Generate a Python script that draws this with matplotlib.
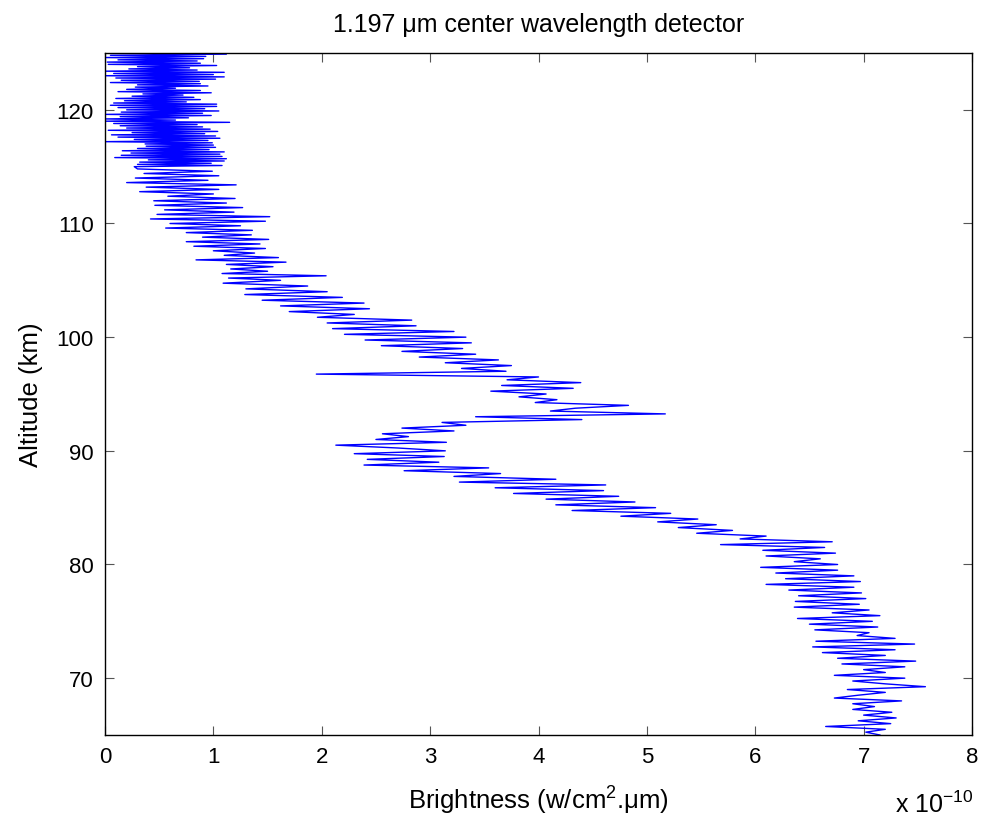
#!/usr/bin/env python
# -*- coding:utf-8 -*-
import matplotlib
matplotlib.use('Agg')
import matplotlib.pyplot as plt

plt.rcParams['font.family'] = ['Liberation Sans', 'DejaVu Sans']
plt.rcParams['mathtext.fontset'] = 'custom'
plt.rcParams['mathtext.rm'] = 'Liberation Sans'
plt.rcParams['mathtext.it'] = 'Liberation Sans'

# altitude samples (km)
alt_top = [125.0, 124.9, 124.8, 124.7, 124.6, 124.5, 124.4, 124.3, 124.2, 124.1,
           124.0, 123.9, 123.8, 123.7, 123.6, 123.5, 123.4, 123.3, 123.2, 123.1,
           123.0, 122.9, 122.8, 122.7, 122.6, 122.5, 122.4, 122.3, 122.2, 122.1,
           122.0, 121.9, 121.8, 121.7, 121.6, 121.5, 121.4, 121.3, 121.2, 121.1,
           121.0, 120.9, 120.8, 120.7, 120.6, 120.5, 120.4, 120.3, 120.2, 120.1,
           120.0, 119.9, 119.8, 119.7, 119.6, 119.5, 119.4, 119.3, 119.2, 119.1,
           119.0, 118.9, 118.8, 118.7, 118.6, 118.5, 118.4, 118.3, 118.2, 118.1,
           118.0, 117.9, 117.8, 117.7, 117.6, 117.5, 117.4, 117.3, 117.2, 117.1,
           117.0, 116.9, 116.8, 116.7, 116.6, 116.5, 116.4, 116.3, 116.2, 116.1,
           116.0, 115.9, 115.8, 115.7, 115.6, 115.5, 115.4, 115.3, 115.2, 115.1,
           115.0]
bright_top = [0.0, 1.12, 0.05, 0.93, 0.0, 0.91, 0.12, 0.85, 0.02, 0.88,
              0.03, 1.03, 0.3, 0.78, 0.22, 0.85, 0.0, 1.10, 0.08, 1.0,
              0.0, 1.1, 0.1, 1.02, 0.15, 0.87, 0.05, 0.88, 0.3, 0.95,
              0.28, 0.65, 0.2, 0.88, 0.12, 0.98, 0.35, 0.72, 0.25, 0.82,
              0.1, 0.88, 0.18, 0.75, 0.08, 1.03, 0.05, 1.03, 0.12, 0.92,
              0.2, 1.05, 0.15, 0.9, 0.0, 0.98, 0.14, 0.77, 0.0, 0.65,
              0.0, 1.15, 0.08, 0.85, 0.14, 0.9, 0.2, 0.97, 0.03, 1.04,
              0.25, 0.92, 0.06, 1.02, 0.12, 1.06, 0.27, 0.95, 0.0, 0.99,
              0.37, 1.0, 0.38, 1.02, 0.3, 0.96, 0.16, 1.1, 0.24, 1.06,
              0.15, 1.08, 0.09, 1.12, 0.4, 1.1, 0.32, 0.98, 0.3, 1.08,
              0.27]

alt_mid = [114.8, 114.6, 114.4, 114.2, 114.0, 113.8, 113.6, 113.4, 113.2, 113.0,
           112.8, 112.6, 112.4, 112.2, 112.0, 111.8, 111.6, 111.4, 111.2, 111.0,
           110.8, 110.6, 110.4, 110.2, 110.0, 109.8, 109.6, 109.4, 109.2, 109.0,
           108.8, 108.6, 108.4, 108.2, 108.0, 107.8, 107.6, 107.4, 107.2, 107.0,
           106.8, 106.6, 106.4, 106.2, 106.0, 105.8, 105.6, 105.4, 105.2, 105.0]
bright_mid = [0.3, 0.99, 0.36, 1.05, 0.28, 0.95, 0.2, 1.21, 0.38, 1.05,
              0.32, 1.0, 0.58, 1.2, 0.45, 1.12, 0.46, 1.27, 0.55, 1.19,
              0.48, 1.52, 0.42, 1.48, 0.6, 1.25, 0.56, 1.36, 0.75, 1.35,
              0.9, 1.51, 0.75, 1.43, 0.82, 1.48, 1.0, 1.38, 1.1, 1.6,
              0.84, 1.67, 1.12, 1.55, 1.16, 1.5, 1.08, 2.04, 1.14, 1.62]

alt_low = [104.75, 104.5, 104.25, 104.0, 103.75, 103.5, 103.25, 103.0, 102.75, 102.5,
           102.25, 102.0, 101.75, 101.5, 101.25, 101.0, 100.75, 100.5, 100.25, 100.0,
           99.75, 99.5, 99.25, 99.0, 98.75, 98.5, 98.25, 98.0, 97.75, 97.5,
           97.25, 97.0, 96.75, 96.5, 96.25, 96.0, 95.75, 95.5, 95.25, 95.0,
           94.75, 94.5, 94.25, 94.0, 93.75, 93.5, 93.25, 93.0, 92.75, 92.5,
           92.25, 92.0, 91.75, 91.5, 91.25, 91.0, 90.75, 90.5, 90.25, 90.0,
           89.75, 89.5, 89.25, 89.0, 88.75, 88.5, 88.25, 88.0, 87.75, 87.5,
           87.25, 87.0, 86.75, 86.5, 86.25, 86.0, 85.75, 85.5, 85.25, 85.0,
           84.75, 84.5, 84.25, 84.0, 83.75, 83.5, 83.25, 83.0, 82.75, 82.5,
           82.25, 82.0, 81.75, 81.5, 81.25, 81.0, 80.75, 80.5, 80.25, 80.0,
           79.75, 79.5, 79.25, 79.0, 78.75, 78.5, 78.25, 78.0, 77.75, 77.5,
           77.25, 77.0, 76.75, 76.5, 76.25, 76.0, 75.75, 75.5, 75.25, 75.0,
           74.75, 74.5, 74.25, 74.0, 73.75, 73.5, 73.25, 73.0, 72.75, 72.5,
           72.25, 72.0, 71.75, 71.5, 71.25, 71.0, 70.75, 70.5, 70.25, 70.0,
           69.75, 69.5, 69.25, 69.0, 68.75, 68.5, 68.25, 68.0, 67.75, 67.5,
           67.25, 67.0, 66.75, 66.5, 66.25, 66.0, 65.75, 65.5, 65.25, 65.0]
bright_low = [1.09, 1.87, 1.3, 2.05, 1.29, 2.19, 1.45, 2.39, 1.62, 2.44,
              1.7, 2.3, 1.96, 2.83, 2.05, 2.87, 2.1, 3.22, 2.21, 3.33,
              2.4, 3.38, 2.55, 3.3, 2.74, 3.42, 2.9, 3.63, 3.14, 3.75,
              3.29, 3.7, 1.95, 4.0, 3.71, 4.39, 3.66, 4.32, 3.56, 4.07,
              3.82, 4.17, 3.97, 4.83, 4.34, 4.11, 5.17, 3.42, 4.4, 3.11,
              3.33, 2.74, 3.22, 2.56, 2.8, 2.5, 3.15, 2.13, 2.7, 3.14,
              2.30, 3.13, 2.42, 3.08, 2.39, 3.54, 2.76, 3.65, 3.22, 4.16,
              3.27, 4.62, 3.6, 4.6, 3.77, 4.74, 4.07, 4.89, 4.16, 5.08,
              4.31, 5.22, 4.76, 5.47, 5.1, 5.64, 5.29, 5.79, 5.46, 6.1,
              5.86, 6.71, 5.68, 6.64, 6.07, 6.74, 6.1, 6.6, 6.36, 6.76,
              6.05, 6.76, 6.19, 6.91, 6.28, 6.97, 6.10, 6.91, 6.31, 6.98,
              6.4, 7.02, 6.37, 6.96, 6.36, 7.05, 6.71, 7.15, 6.39, 7.08,
              6.5, 7.13, 6.55, 7.05, 6.94, 7.29, 6.56, 7.47, 6.53, 7.29,
              6.62, 7.2, 6.76, 7.48, 6.8, 7.38, 7.0, 7.2, 6.73, 7.38,
              6.9, 7.2, 7.57, 6.85, 7.2, 6.95, 6.73, 7.35, 6.9, 7.1,
              6.9, 7.26, 7.0, 7.3, 6.95, 7.25, 6.65, 7.2, 7.02, 7.15]

altitude = alt_top + alt_mid + alt_low
brightness = bright_top + bright_mid + bright_low   # units of 1e-10 w/cm^2.um

xticks = [0, 1, 2, 3, 4, 5, 6, 7, 8]
yticks = [70, 80, 90, 100, 110, 120]

fig = plt.figure(figsize=(9.83, 8.2), dpi=100)
ax = fig.add_axes([105/983, 1-736/820, (972-105)/983, (736-54)/820])

ax.plot(brightness, altitude, color='#0000ff', lw=1.0)

ax.set_xlim(0, 8)
ax.set_ylim(65, 125)
ax.set_xticks(xticks)
ax.set_yticks(yticks)
ax.tick_params(direction='in', length=6.5, width=0.8, color='#555555',
               top=True, right=True, labelsize=16, pad=8)
for s in ax.spines.values():
    s.set_linewidth(1.0)

ax.set_title('1.197 μm center wavelength detector', fontsize=18, pad=16)
ax.set_xlabel('Brightness (w/cm$^2$.μm)', fontsize=18.5, labelpad=12)
ax.set_ylabel('Altitude (km)', fontsize=18.5, labelpad=10)
fig.text(895/983, 1-805/820, 'x 10$^{-10}$', fontsize=18, ha='left', va='center')

plt.savefig('out.png', dpi=100)
